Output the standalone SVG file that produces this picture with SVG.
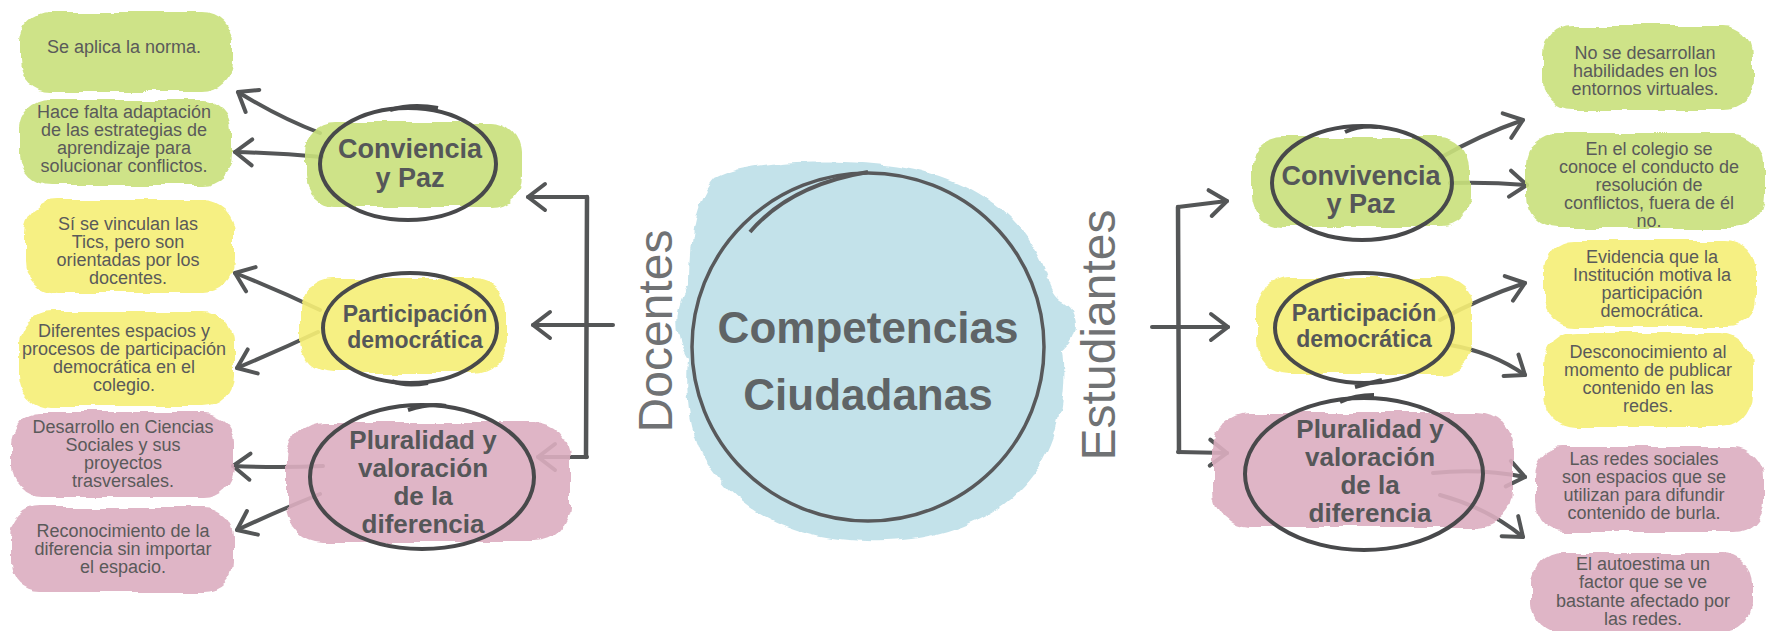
<svg xmlns="http://www.w3.org/2000/svg" width="1773" height="631" viewBox="0 0 1773 631">
<defs>
<filter id="brush" x="-10%" y="-20%" width="120%" height="140%">
<feTurbulence type="fractalNoise" baseFrequency="0.025 0.06" numOctaves="3" seed="3" result="n"/>
<feDisplacementMap in="SourceGraphic" in2="n" scale="9" xChannelSelector="R" yChannelSelector="G"/>
</filter>
<marker id="ah" markerUnits="userSpaceOnUse" markerWidth="40" markerHeight="40" refX="0" refY="0" orient="auto" style="overflow:visible">
<path d="M-17,-13 L0,0 L-17,13" fill="none" stroke="#545657" stroke-width="4" stroke-linecap="round" stroke-linejoin="round"/>
</marker>
</defs>
<style>
.box{font-family:"Liberation Sans",Arial,sans-serif;font-size:18px;fill:#5a5a5a;text-anchor:middle}
.nt{font-family:"Liberation Sans",Arial,sans-serif;font-weight:bold;font-size:26px;fill:#555759;text-anchor:middle}
.ct{font-family:"Liberation Sans",Arial,sans-serif;font-weight:bold;font-size:44px;fill:#5f6466;text-anchor:middle}
.side{font-family:"Liberation Sans",Arial,sans-serif;font-size:48px;fill:#707274;text-anchor:middle}
.green{fill:#c9e17c}
.yellow{fill:#f6ef76}
.pink{fill:#dcaec0}
.blue{fill:#bddfe8}
.blob{filter:url(#brush);opacity:.9}
.ell{fill:none;stroke:#48494b;stroke-width:4}
.con{fill:none;stroke:#545657;stroke-width:4;stroke-linecap:round;marker-end:url(#ah)}
.line{fill:none;stroke:#545657;stroke-width:4.5;stroke-linecap:round}
</style>
<rect x="0" y="0" width="1773" height="631" fill="#ffffff"/>

<g id="connectors">
<path class="line" d="M587,197 L586,457"/>
<path class="con" d="M587,197 L528,197"/>
<path class="con" d="M613,325 L533,325"/>
<path class="con" d="M587,457 L538,457"/>
<path class="con" d="M320,133 Q280,118 238,92"/>
<path class="con" d="M322,157 Q280,153 235,152"/>
<path class="con" d="M320,310 Q278,290 235,273"/>
<path class="con" d="M318,332 Q280,350 237,368"/>
<path class="con" d="M323,466 Q280,468 233,466"/>
<path class="con" d="M320,494 Q280,510 237,530"/>
<path class="line" d="M1178,207 L1179,452"/>
<path class="con" d="M1178,207 L1227,201"/>
<path class="con" d="M1152,327 L1228,327"/>
<path class="con" d="M1178,452 L1227,453"/>
<path class="con" d="M1440,158 Q1480,135 1523,120"/>
<path class="con" d="M1450,183 Q1490,182 1527,185"/>
<path class="con" d="M1440,320 Q1480,298 1525,283"/>
<path class="con" d="M1450,345 Q1492,352 1525,375"/>
<path class="con" d="M1433,473 Q1480,468 1525,477"/>
<path class="con" d="M1440,495 Q1488,508 1523,537"/>
</g>

<g id="center">
<path class="blue blob" d="M715,178 C750,158 850,158 905,168 C960,178 1010,205 1035,250 C1050,275 1048,290 1060,300 C1082,310 1080,335 1062,350 C1068,400 1055,455 1020,490 C985,525 925,545 865,542 C800,540 745,515 715,475 C690,445 685,400 688,360 C672,335 675,300 690,285 C690,240 695,200 715,178 Z"/>
<ellipse cx="868" cy="347" rx="176" ry="174" fill="none" stroke="#58595b" stroke-width="3.5"/>
<path d="M750,232 Q790,185 868,172" fill="none" stroke="#58595b" stroke-width="4"/>
<text class="ct" x="868" y="343">Competencias</text>
<text class="ct" x="868" y="410">Ciudadanas</text>
</g>

<g id="label-docentes">
<text class="side" transform="translate(672,331) rotate(-90)">Docentes</text>
</g>
<g id="label-estudiantes">
<text class="side" transform="translate(1115,335) rotate(-90)">Estudiantes</text>
</g>

<g id="node-conviencia">
<rect class="green blob" x="305" y="122" width="217" height="85" rx="30"/>
<ellipse class="ell" cx="408" cy="164" rx="88" ry="56"/>
<path class="ell" d="M390,110 Q412,103 438,108"/>
<text class="nt" x="410" y="158" style="font-size:27px">Conviencia</text>
<text class="nt" x="410" y="187" style="font-size:27px">y Paz</text>
</g>

<g id="node-participacion-d">
<rect class="yellow blob" x="300" y="278" width="207" height="95" rx="32"/>
<ellipse class="ell" cx="410" cy="328" rx="87" ry="55"/>
<path class="ell" d="M392,381 Q405,387 428,383"/>
<text class="nt" x="415" y="322" style="font-size:23px">Participación</text>
<text class="nt" x="415" y="348" style="font-size:23px">democrática</text>
</g>

<g id="node-pluralidad-d">
<rect class="pink blob" x="287" y="422" width="283" height="120" rx="36"/>
<ellipse class="ell" cx="422" cy="477" rx="112" ry="72"/>
<path class="ell" d="M408,410 Q430,403 446,406"/>
<text class="nt" x="423" y="449">Pluralidad y</text>
<text class="nt" x="423" y="477">valoración</text>
<text class="nt" x="423" y="505">de la</text>
<text class="nt" x="423" y="533">diferencia</text>
</g>

<g id="node-convivencia-e">
<rect class="green blob" x="1253" y="137" width="217" height="90" rx="30"/>
<ellipse class="ell" cx="1362" cy="183" rx="90" ry="57"/>
<path class="ell" d="M1345,132 Q1360,125 1378,127"/>
<text class="nt" x="1361" y="185" style="font-size:27px">Convivencia</text>
<text class="nt" x="1361" y="213" style="font-size:27px">y Paz</text>
</g>

<g id="node-participacion-e">
<rect class="yellow blob" x="1257" y="278" width="216" height="96" rx="32"/>
<ellipse class="ell" cx="1364" cy="328" rx="89" ry="55"/>
<path class="ell" d="M1355,387 Q1370,383 1382,380"/>
<text class="nt" x="1364" y="321" style="font-size:23px">Participación</text>
<text class="nt" x="1364" y="347" style="font-size:23px">democrática</text>
</g>

<g id="node-pluralidad-e">
<rect class="pink blob" x="1213" y="413" width="300" height="114" rx="36"/>
<ellipse class="ell" cx="1364" cy="474" rx="119" ry="76"/>
<path class="ell" d="M1340,402 Q1355,395 1374,395"/>
<text class="nt" x="1370" y="438">Pluralidad y</text>
<text class="nt" x="1370" y="466">valoración</text>
<text class="nt" x="1370" y="494">de la</text>
<text class="nt" x="1370" y="522">diferencia</text>
</g>

<g id="box-d1">
<rect class="green blob" x="20" y="12" width="212" height="80" rx="30"/>
<text class="box" x="124" y="53">Se aplica la norma.</text>
</g>
<g id="box-d2">
<rect class="green blob" x="20" y="100" width="212" height="85" rx="30"/>
<text class="box" x="124" y="118">Hace falta adaptación</text>
<text class="box" x="124" y="136">de las estrategias de</text>
<text class="box" x="124" y="154">aprendizaje para</text>
<text class="box" x="124" y="172">solucionar conflictos.</text>
</g>
<g id="box-d3">
<rect class="yellow blob" x="25" y="200" width="209" height="93" rx="32"/>
<text class="box" x="128" y="230">Sí se vinculan las</text>
<text class="box" x="128" y="248">Tics, pero son</text>
<text class="box" x="128" y="266">orientadas por los</text>
<text class="box" x="128" y="284">docentes.</text>
</g>
<g id="box-d4">
<rect class="yellow blob" x="19" y="311" width="215" height="96" rx="32"/>
<text class="box" x="124" y="337">Diferentes espacios y</text>
<text class="box" x="124" y="355">procesos de participación</text>
<text class="box" x="124" y="373">democrática en el</text>
<text class="box" x="124" y="391">colegio.</text>
</g>
<g id="box-d5">
<rect class="pink blob" x="11" y="413" width="223" height="84" rx="30"/>
<text class="box" x="123" y="433">Desarrollo en Ciencias</text>
<text class="box" x="123" y="451">Sociales y sus</text>
<text class="box" x="123" y="469">proyectos</text>
<text class="box" x="123" y="487">trasversales.</text>
</g>
<g id="box-d6">
<rect class="pink blob" x="11" y="507" width="223" height="85" rx="30"/>
<text class="box" x="123" y="537">Reconocimiento de la</text>
<text class="box" x="123" y="555">diferencia sin importar</text>
<text class="box" x="123" y="573">el espacio.</text>
</g>

<g id="box-e1">
<rect class="green blob" x="1543" y="25" width="210" height="85" rx="30"/>
<text class="box" x="1645" y="59">No se desarrollan</text>
<text class="box" x="1645" y="77">habilidades en los</text>
<text class="box" x="1645" y="95">entornos virtuales.</text>
</g>
<g id="box-e2">
<rect class="green blob" x="1526" y="133" width="238" height="95" rx="32"/>
<text class="box" x="1649" y="155">En el colegio se</text>
<text class="box" x="1649" y="173">conoce el conducto de</text>
<text class="box" x="1649" y="191">resolución de</text>
<text class="box" x="1649" y="209">conflictos, fuera de él</text>
<text class="box" x="1649" y="227">no.</text>
</g>
<g id="box-e3">
<rect class="yellow blob" x="1545" y="240" width="211" height="87" rx="30"/>
<text class="box" x="1652" y="263">Evidencia que la</text>
<text class="box" x="1652" y="281">Institución motiva la</text>
<text class="box" x="1652" y="299">participación</text>
<text class="box" x="1652" y="317">democrática.</text>
</g>
<g id="box-e4">
<rect class="yellow blob" x="1544" y="333" width="208" height="94" rx="32"/>
<text class="box" x="1648" y="358">Desconocimiento al</text>
<text class="box" x="1648" y="376">momento de publicar</text>
<text class="box" x="1648" y="394">contenido en las</text>
<text class="box" x="1648" y="412">redes.</text>
</g>
<g id="box-e5">
<rect class="pink blob" x="1534" y="447" width="230" height="85" rx="30"/>
<text class="box" x="1644" y="465">Las redes sociales</text>
<text class="box" x="1644" y="483">son espacios que se</text>
<text class="box" x="1644" y="501">utilizan para difundir</text>
<text class="box" x="1644" y="519">contenido de burla.</text>
</g>
<g id="box-e6">
<rect class="pink blob" x="1532" y="553" width="220" height="80" rx="30"/>
<text class="box" x="1643" y="570">El autoestima un</text>
<text class="box" x="1643" y="588">factor que se ve</text>
<text class="box" x="1643" y="607">bastante afectado por</text>
<text class="box" x="1643" y="625">las redes.</text>
</g>
</svg>
